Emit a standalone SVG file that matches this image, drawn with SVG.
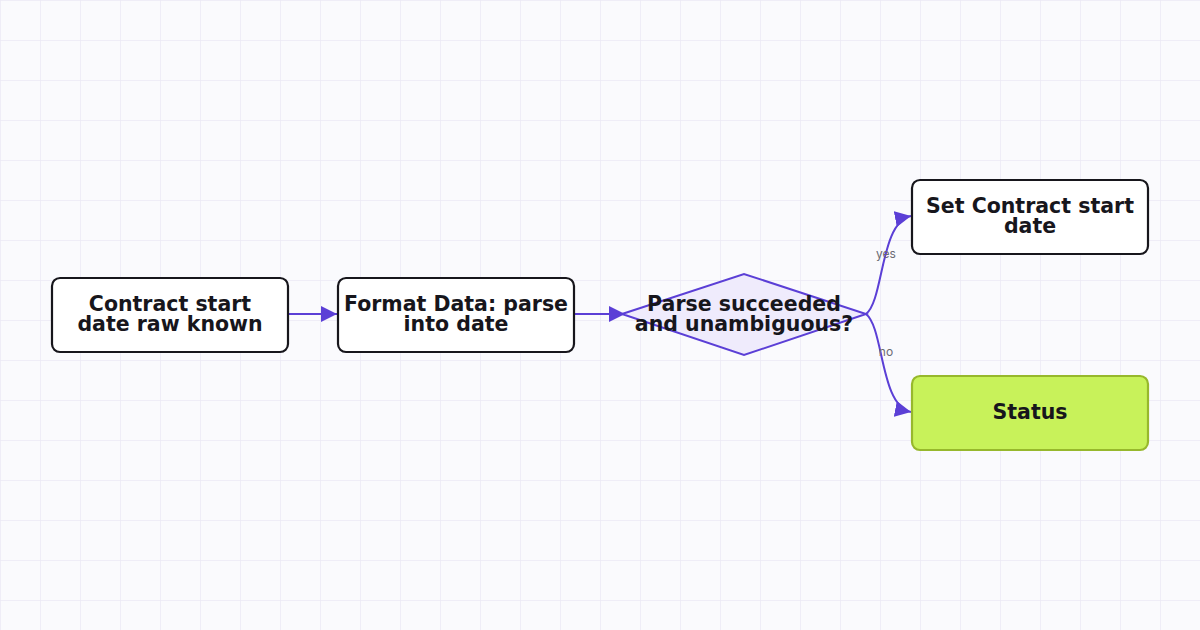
<svg xmlns="http://www.w3.org/2000/svg" width="1200" height="630" viewBox="0 0 1200 630">
<defs>
<pattern id="grid" width="40" height="40" patternUnits="userSpaceOnUse">
<path d="M40 0 H0 V40" fill="none" stroke="#ebe9f5" stroke-width="1.5"/>
</pattern>
<marker id="arr" viewBox="0 0 10 10" refX="10" refY="5" markerWidth="16" markerHeight="16" markerUnits="userSpaceOnUse" orient="auto">
<path d="M0 0 L10 5 L0 10 Z" fill="#5b3fd6"/>
</marker>
<style>
.node{fill:#ffffff;stroke:#17161c;stroke-width:2.2}
.lbl{font-family:"DejaVu Sans","Liberation Sans",sans-serif;font-weight:700;font-size:20.5px;fill:#17161c;text-anchor:middle}
.edge{fill:none;stroke:#5b3fd6;stroke-width:2}
.elbl{font-family:Inter,"Liberation Sans",sans-serif;font-size:12px;fill:#6b6a73;text-anchor:middle}
</style>
</defs>
<rect width="1200" height="630" fill="#fafafd"/>
<rect width="1200" height="630" fill="url(#grid)"/>
<g id="connectors">
<path class="edge" d="M288 314 H337" marker-end="url(#arr)"/>
<path class="edge" d="M574 314 H625" marker-end="url(#arr)"/>
<path class="edge" d="M866 314 C884 300 880 222 911 216" marker-end="url(#arr)"/>
<path class="edge" d="M866 314 C884 328 880 406 911 412" marker-end="url(#arr)"/>
<text class="elbl" x="886" y="258">yes</text>
<text class="elbl" x="886" y="356">no</text>
</g>
<g id="n1">
<rect class="node" x="52" y="278" width="236" height="74" rx="8"/>
<text class="lbl" x="170" y="310.5">Contract start</text>
<text class="lbl" x="170" y="331">date raw known</text>
</g>
<g id="n2">
<rect class="node" x="338" y="278" width="236" height="74" rx="8"/>
<text class="lbl" x="456" y="310.5">Format Data: parse</text>
<text class="lbl" x="456" y="331">into date</text>
</g>
<g id="n3">
<polygon points="622,314 744,274 866,314 744,355" fill="#efebfc" stroke="#5b3fd6" stroke-width="2"/>
<text class="lbl" x="744" y="310.5">Parse succeeded</text>
<text class="lbl" x="744" y="331">and unambiguous?</text>
</g>
<g id="n4">
<rect class="node" x="912" y="180" width="236" height="74" rx="8"/>
<text class="lbl" x="1030" y="212.5">Set Contract start</text>
<text class="lbl" x="1030" y="233">date</text>
</g>
<g id="n5">
<rect x="912" y="376" width="236" height="74" rx="8" fill="#c8f25a" stroke="#97b82c" stroke-width="2.2"/>
<text class="lbl" x="1030" y="418.5">Status</text>
</g>
</svg>
